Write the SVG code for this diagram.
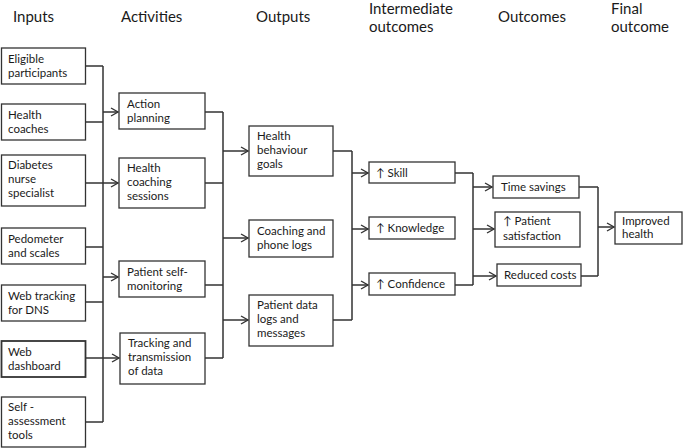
<svg xmlns="http://www.w3.org/2000/svg" width="685" height="448" viewBox="0 0 685 448">
<style>
.box{fill:#fff;stroke:#333;stroke-width:1.3}
.t{font-family:Lato,"Open Sans","Liberation Sans",sans-serif;font-size:11.5px;fill:#1a1a1a}
.h{font-family:Lato,"Open Sans","Liberation Sans",sans-serif;font-size:15px;fill:#1a1a1a}
.c{fill:none;stroke:#333;stroke-width:1.5}
.a{fill:none;stroke:#333;stroke-width:1.5;marker-end:url(#arr)}
</style>
<defs>
<marker id="arr" markerUnits="userSpaceOnUse" markerWidth="10" markerHeight="10" refX="8" refY="5" orient="auto">
<path d="M1,1 L8,5 L1,9" fill="none" stroke="#333" stroke-width="1.4"/>
</marker>
</defs>
<g id="headings">
<text class="h" x="13" y="22">Inputs</text>
<text class="h" x="121" y="22">Activities</text>
<text class="h" x="256" y="22">Outputs</text>
<text class="h" x="369" y="14">Intermediate</text>
<text class="h" x="369" y="32">outcomes</text>
<text class="h" x="498" y="22">Outcomes</text>
<text class="h" x="611" y="14">Final</text>
<text class="h" x="611" y="32">outcome</text>
</g>
<g id="connectors">
<path class="c" d="M86,66 H103 M86,122 H103 M86,247 H103 M86,302 H103 M86,422 H103 M103,66 V422"/>
<path class="a" d="M86,183 H118"/>
<path class="a" d="M86,358 H119"/>
<path class="a" d="M103,112 H118"/>
<path class="a" d="M103,277 H118"/>
<path class="c" d="M205,112 H223 M205,183 H223 M205,285 H223 M205,358 H223 M223,112 V358"/>
<path class="a" d="M223,151 H248"/>
<path class="a" d="M223,238 H248"/>
<path class="a" d="M223,320 H248"/>
<path class="c" d="M333,151 H352 M333,320 H352 M352,151 V320"/>
<path class="a" d="M352,173 H368"/>
<path class="a" d="M352,229 H368"/>
<path class="a" d="M352,285 H368"/>
<path class="c" d="M455,173 H473 M455,285 H473 M473,173 V285"/>
<path class="a" d="M473,187 H492"/>
<path class="a" d="M473,229 H494"/>
<path class="a" d="M473,276 H496"/>
<path class="c" d="M579,187 H598 M581,276 H598 M598,187 V276"/>
<path class="a" d="M598,227 H614"/>
</g>
<g id="eligible"><rect class="box" x="1.5" y="48" width="84" height="36"/><text class="t" x="8" y="63">Eligible</text><text class="t" x="8" y="77">participants</text></g>
<g id="coaches"><rect class="box" x="1.5" y="104" width="84" height="36"/><text class="t" x="8" y="119">Health</text><text class="t" x="8" y="133">coaches</text></g>
<g id="dns"><rect class="box" x="1.5" y="155" width="84" height="51"/><text class="t" x="8" y="169">Diabetes</text><text class="t" x="8" y="183">nurse</text><text class="t" x="8" y="197">specialist</text></g>
<g id="pedometer"><rect class="box" x="1.5" y="228" width="84" height="36"/><text class="t" x="8" y="243">Pedometer</text><text class="t" x="8" y="257">and scales</text></g>
<g id="webtracking"><rect class="box" x="1.5" y="285" width="84" height="36"/><text class="t" x="8" y="300">Web tracking</text><text class="t" x="8" y="314">for DNS</text></g>
<g id="dashboard"><rect class="box" x="1.5" y="341" width="84" height="36" style="stroke-width:1.8"/><text class="t" x="8" y="356">Web</text><text class="t" x="8" y="370">dashboard</text></g>
<g id="selfassess"><rect class="box" x="1.5" y="397" width="84" height="50"/><text class="t" x="8" y="411">Self -</text><text class="t" x="8" y="425">assessment</text><text class="t" x="8" y="439">tools</text></g>
<g id="actionplanning"><rect class="box" x="119" y="93" width="86" height="36"/><text class="t" x="127" y="108">Action</text><text class="t" x="127" y="122">planning</text></g>
<g id="coachingsessions"><rect class="box" x="119" y="158" width="86" height="50"/><text class="t" x="127" y="172">Health</text><text class="t" x="127" y="186">coaching</text><text class="t" x="127" y="200">sessions</text></g>
<g id="selfmonitoring"><rect class="box" x="119" y="261" width="86" height="36"/><text class="t" x="127" y="276">Patient self-</text><text class="t" x="127" y="290">monitoring</text></g>
<g id="tracking"><rect class="box" x="120" y="333" width="85" height="51"/><text class="t" x="128" y="347">Tracking and</text><text class="t" x="128" y="361">transmission</text><text class="t" x="128" y="375">of data</text></g>
<g id="goals"><rect class="box" x="249" y="126" width="84" height="50"/><text class="t" x="257" y="140">Health</text><text class="t" x="257" y="154">behaviour</text><text class="t" x="257" y="168">goals</text></g>
<g id="logs"><rect class="box" x="249" y="220" width="84" height="37"/><text class="t" x="257" y="235">Coaching and</text><text class="t" x="257" y="249">phone logs</text></g>
<g id="patientdata"><rect class="box" x="249" y="295" width="84" height="51"/><text class="t" x="257" y="309">Patient data</text><text class="t" x="257" y="323">logs and</text><text class="t" x="257" y="337">messages</text></g>
<g id="skill"><rect class="box" x="369" y="162" width="86" height="21"/><text class="t" x="376" y="177">↑ Skill</text></g>
<g id="knowledge"><rect class="box" x="369" y="217" width="86" height="22"/><text class="t" x="376" y="232">↑ Knowledge</text></g>
<g id="confidence"><rect class="box" x="369" y="273" width="86" height="22"/><text class="t" x="376" y="288">↑ Confidence</text></g>
<g id="timesavings"><rect class="box" x="493" y="176" width="86" height="22"/><text class="t" x="501" y="191">Time savings</text></g>
<g id="satisfaction"><rect class="box" x="495" y="212" width="85" height="35"/><text class="t" x="503" y="225">↑ Patient</text><text class="t" x="503" y="240">satisfaction</text></g>
<g id="costs"><rect class="box" x="497" y="264" width="84" height="22"/><text class="t" x="504" y="279">Reduced costs</text></g>
<g id="improved"><rect class="box" x="615" y="212" width="67" height="32"/><text class="t" x="622" y="225">Improved</text><text class="t" x="622" y="238">health</text></g>
</svg>
